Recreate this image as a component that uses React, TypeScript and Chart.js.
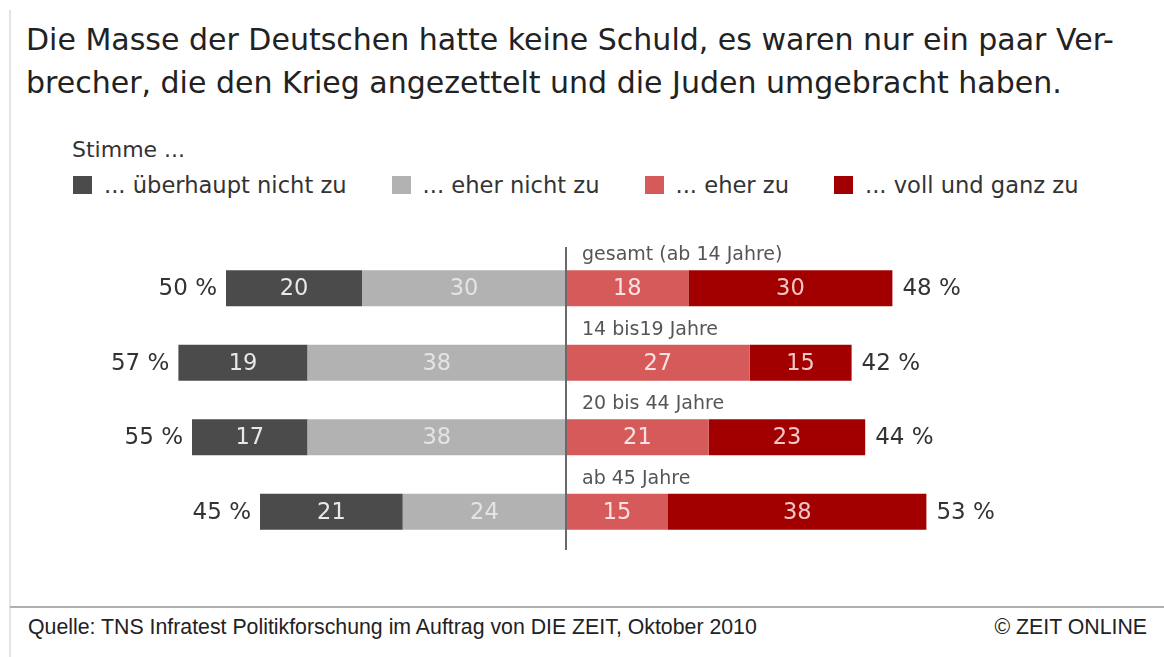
import React, { useEffect, useRef } from 'react';
import { Chart, registerables } from 'chart.js';

Chart.register(...registerables);

const titleLines = [
  'Die Masse der Deutschen hatte keine Schuld, es waren nur ein paar Ver-',
  'brecher, die den Krieg angezettelt und die Juden umgebracht haben.',
];
const legendHeader = 'Stimme ...';
const groups = ['gesamt (ab 14 Jahre)', '14 bis19 Jahre', '20 bis 44 Jahre', 'ab 45 Jahre'];
const ueberhauptNichtZu = [20, 19, 17, 21];
const eherNichtZu = [30, 38, 38, 24];
const eherZu = [18, 27, 21, 15];
const vollUndGanzZu = [30, 15, 23, 38];
const ablehnungSumme = [50, 57, 55, 45];
const zustimmungSumme = [48, 42, 44, 53];
const legendLabels = ['... überhaupt nicht zu', '... eher nicht zu', '... eher zu', '... voll und ganz zu'];
const seriesColors = ['#4b4b4b', '#b2b2b2', '#d65a5a', '#a20000'];
const valueColors = ['#e8e8e8', '#e4e4e4', '#fbe2e2', '#f2c6c6'];
const sourceText = 'Quelle: TNS Infratest Politikforschung im Auftrag von DIE ZEIT, Oktober 2010';
const creditText = '© ZEIT ONLINE';

const FONT = '"DejaVu Sans", "Liberation Sans", Arial, sans-serif';
const FOOT_FONT = '"Liberation Sans", Arial, sans-serif';

const labelPlugin = {
  id: 'barLabels',
  afterDatasetsDraw(chart: any) {
    const { ctx, chartArea, scales } = chart;
    const x0 = scales.x.getPixelForValue(0);
    ctx.save();
    ctx.strokeStyle = '#6a6a6a';
    ctx.lineWidth = 2;
    ctx.beginPath();
    ctx.moveTo(x0, chartArea.top - 4);
    ctx.lineTo(x0, chartArea.bottom + 1);
    ctx.stroke();

    chart.data.datasets.forEach((ds: any, di: number) => {
      const meta = chart.getDatasetMeta(di);
      meta.data.forEach((bar: any, i: number) => {
        const { x, base, y } = bar.getProps(['x', 'base', 'y'], true);
        ctx.fillStyle = ds.valueColor;
        ctx.font = '22.5px ' + FONT;
        ctx.textAlign = 'center';
        ctx.textBaseline = 'middle';
        ctx.fillText(String(Math.abs(ds.data[i])), (x + base) / 2, y + 1);
      });
    });

    const leftMeta = chart.getDatasetMeta(1).data;
    const rightMeta = chart.getDatasetMeta(3).data;
    ctx.fillStyle = '#333';
    ctx.font = '23px ' + FONT;
    ctx.textBaseline = 'middle';
    leftMeta.forEach((bar: any, i: number) => {
      const { x, y } = bar.getProps(['x', 'y'], true);
      ctx.textAlign = 'right';
      ctx.fillText(ablehnungSumme[i] + ' %', x - 9, y + 1);
    });
    rightMeta.forEach((bar: any, i: number) => {
      const { x, y, height } = bar.getProps(['x', 'y', 'height'], true);
      ctx.textAlign = 'left';
      ctx.fillStyle = '#333';
      ctx.font = '23px ' + FONT;
      ctx.textBaseline = 'middle';
      ctx.fillText(zustimmungSumme[i] + ' %', x + 10, y + 1);
      ctx.fillStyle = '#555';
      ctx.font = '19px ' + FONT;
      ctx.textBaseline = 'alphabetic';
      ctx.fillText(chart.data.labels[i], x0 + 16, y - height / 2 - 10);
    });
    ctx.restore();
  },
};

export default function App() {
  const canvasRef = useRef<HTMLCanvasElement | null>(null);

  useEffect(() => {
    if (!canvasRef.current) return;
    const chart = new Chart(canvasRef.current, {
      type: 'bar',
      data: {
        labels: groups,
        datasets: [
          { label: legendLabels[1], data: eherNichtZu.map((v) => -v), backgroundColor: seriesColors[1], valueColor: valueColors[1] } as any,
          { label: legendLabels[0], data: ueberhauptNichtZu.map((v) => -v), backgroundColor: seriesColors[0], valueColor: valueColors[0] } as any,
          { label: legendLabels[2], data: eherZu, backgroundColor: seriesColors[2], valueColor: valueColors[2] } as any,
          { label: legendLabels[3], data: vollUndGanzZu, backgroundColor: seriesColors[3], valueColor: valueColors[3] } as any,
        ],
      },
      options: {
        indexAxis: 'y',
        responsive: false,
        animation: false,
        layout: { padding: { left: 90, right: 122, top: 21, bottom: 21 } },
        datasets: { bar: { categoryPercentage: 1, barPercentage: 0.48, borderWidth: 0 } },
        scales: {
          x: { stacked: true, min: -70, max: 70, display: false },
          y: { stacked: true, display: false },
        },
        plugins: { legend: { display: false }, title: { display: false }, tooltip: { enabled: false } },
      },
      plugins: [labelPlugin],
    });
    return () => chart.destroy();
  }, []);

  const legendOrder = [0, 1, 2, 3];

  return (
    <div style={{ position: 'absolute', left: 0, top: 0, width: 1164, height: 657, background: '#fff', overflow: 'hidden', fontFamily: FONT }}>
      <div style={{ position: 'absolute', left: 9, top: 10, width: 2, height: 647, background: '#e4e4e4' }} />
      <div style={{ position: 'absolute', left: 26, top: 18, fontSize: 30, lineHeight: '43px', color: '#222', whiteSpace: 'nowrap' }}>
        {titleLines.map((t, i) => (
          <div key={i}>{t}</div>
        ))}
      </div>
      <div style={{ position: 'absolute', left: 72, top: 138, fontSize: 22, lineHeight: '24px', color: '#333', whiteSpace: 'nowrap' }}>{legendHeader}</div>
      <div style={{ position: 'absolute', left: 73, top: 173, height: 24, display: 'flex', alignItems: 'center', whiteSpace: 'nowrap' }}>
        {legendOrder.map((k) => (
          <div key={k} style={{ display: 'flex', alignItems: 'center', marginRight: 45 }}>
            <span style={{ display: 'inline-block', width: 19, height: 18, background: seriesColors[k], marginRight: 12 }} />
            <span style={{ fontSize: 22.6, lineHeight: '24px', color: '#333' }}>{legendLabels[k]}</span>
          </div>
        ))}
      </div>
      <canvas ref={canvasRef} width={1164} height={340} style={{ position: 'absolute', left: 0, top: 230, width: 1164, height: 340 }} />
      <div style={{ position: 'absolute', left: 10, top: 606, width: 1154, height: 2, background: '#b0b0b0' }} />
      <div style={{ position: 'absolute', left: 28, top: 616, fontFamily: FOOT_FONT, fontSize: 21.3, lineHeight: '22px', color: '#222', whiteSpace: 'nowrap' }}>{sourceText}</div>
      <div style={{ position: 'absolute', right: 17, top: 616, fontFamily: FOOT_FONT, fontSize: 21.3, lineHeight: '22px', color: '#222', whiteSpace: 'nowrap' }}>{creditText}</div>
    </div>
  );
}
